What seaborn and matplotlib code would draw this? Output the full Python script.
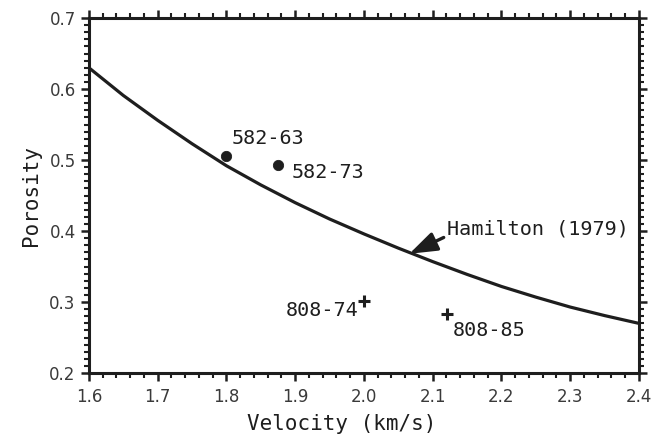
import matplotlib
matplotlib.use("Agg")
import matplotlib.pyplot as plt
import seaborn as sns
import pandas as pd
from matplotlib.ticker import MultipleLocator

# Hamilton (1979) curve
curve_velocity = [1.60, 1.65, 1.70, 1.75, 1.80, 1.85, 1.90, 1.95, 2.00, 2.05,
                  2.10, 2.15, 2.20, 2.25, 2.30, 2.35, 2.40]
curve_porosity = [0.630, 0.591, 0.556, 0.523, 0.492, 0.465, 0.440, 0.417, 0.396, 0.376,
                  0.357, 0.339, 0.322, 0.307, 0.293, 0.281, 0.270]

# Samples
dot_labels = ["582-63", "582-73"]
dot_velocity = [1.799, 1.875]
dot_porosity = [0.506, 0.493]

plus_labels = ["808-74", "808-85"]
plus_velocity = [2.000, 2.121]
plus_porosity = [0.301, 0.283]

curve_label = "Hamilton (1979)"
x_ticks = [1.6, 1.7, 1.8, 1.9, 2.0, 2.1, 2.2, 2.3, 2.4]
x_tick_labels = ["1.6", "1.7", "1.8", "1.9", "2.0", "2.1", "2.2", "2.3", "2.4"]
y_ticks = [0.2, 0.3, 0.4, 0.5, 0.6, 0.7]
y_tick_labels = ["0.2", "0.3", "0.4", "0.5", "0.6", "0.7"]

sns.set_theme(style="ticks")
plt.rcParams['font.family'] = ['DejaVu Sans']
ink = "#1e1e1e"
mono = ['DejaVu Sans Mono', 'DejaVu Sans']

fig = plt.figure(figsize=(6.54, 4.41), dpi=100)
ax = fig.add_axes([0.136, 0.154, 0.841, 0.805])

curve_df = pd.DataFrame({"v": curve_velocity, "p": curve_porosity})
sns.lineplot(data=curve_df, x="v", y="p", ax=ax, color=ink, linewidth=2.3, sort=True)

dot_df = pd.DataFrame({"v": dot_velocity, "p": dot_porosity})
sns.scatterplot(data=dot_df, x="v", y="p", ax=ax, color=ink, s=55, marker="o", edgecolor=ink)
plus_df = pd.DataFrame({"v": plus_velocity, "p": plus_porosity})
sns.scatterplot(data=plus_df, x="v", y="p", ax=ax, color=ink, s=75, marker="+", linewidth=2.2)

fs = 14.5
ann = dict(textcoords="offset pixels", fontsize=fs, color=ink, family=mono)
ax.annotate(dot_labels[0], xy=(dot_velocity[0], dot_porosity[0]), xytext=(6, 8),
            ha="left", va="bottom", **ann)
ax.annotate(dot_labels[1], xy=(dot_velocity[1], dot_porosity[1]), xytext=(14, -7),
            ha="left", va="center", **ann)
ax.annotate(plus_labels[0], xy=(plus_velocity[0], plus_porosity[0]), xytext=(-5, -9),
            ha="right", va="center", **ann)
ax.annotate(plus_labels[1], xy=(plus_velocity[1], plus_porosity[1]), xytext=(6, -16),
            ha="left", va="center", **ann)

# Hamilton label with arrow
ax.text(2.121, 0.403, curve_label, fontsize=fs, color=ink, ha="left", va="center", family=mono)
ax.annotate("", xy=(2.066, 0.368), xytext=(2.116, 0.391),
            arrowprops=dict(arrowstyle="-|>,head_length=1.2,head_width=0.42", color=ink, lw=2.4,
                            shrinkA=0, shrinkB=0, mutation_scale=14))

ax.set_xlim(1.6, 2.4)
ax.set_ylim(0.2, 0.7)
ax.set_xticks(x_ticks)
ax.set_xticklabels(x_tick_labels)
ax.set_yticks(y_ticks)
ax.set_yticklabels(y_tick_labels)
ax.xaxis.set_minor_locator(MultipleLocator(0.02))
ax.yaxis.set_minor_locator(MultipleLocator(0.01))

ax.tick_params(which="both", direction="out", top=True, right=True, color=ink,
               labelsize=12, labelcolor="#3a3a3a")
ax.tick_params(which="major", length=6, width=1.8)
ax.tick_params(which="minor", length=3.5, width=1.5)
ax.tick_params(axis="x", which="major", pad=5)
for sp in ax.spines.values():
    sp.set_visible(True)
    sp.set_linewidth(2.2)
    sp.set_color(ink)

ax.set_xlabel("Velocity (km/s)", fontsize=15, color=ink, family=mono)
ax.xaxis.set_label_coords(0.46, -0.115)
ax.set_ylabel("Porosity", fontsize=15, color=ink, labelpad=6, family=mono)

fig.savefig("out.png", dpi=100, facecolor="white")
